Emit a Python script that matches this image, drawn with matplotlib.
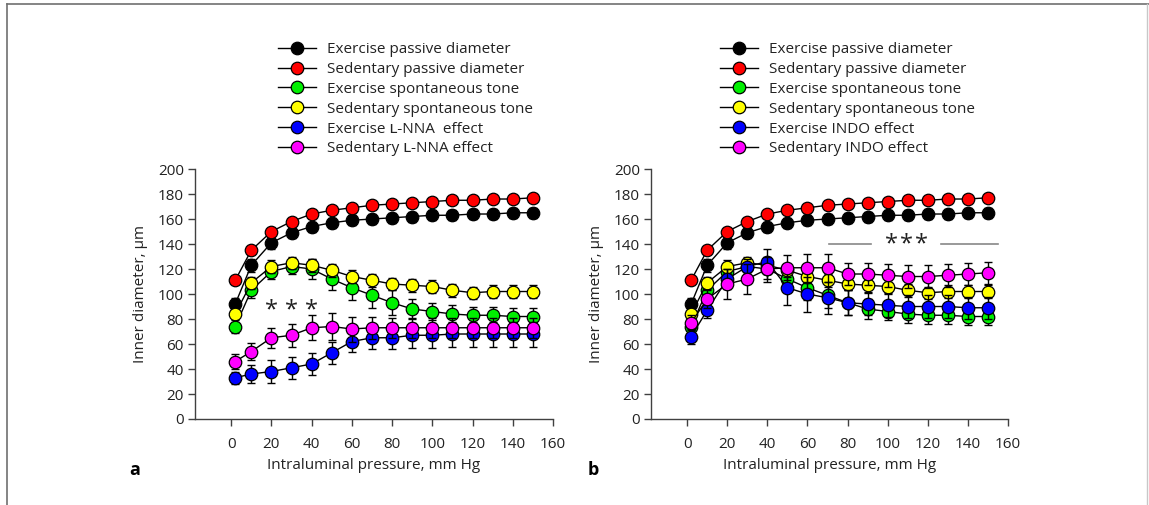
import matplotlib
matplotlib.use("Agg")
import matplotlib.pyplot as plt
from matplotlib.lines import Line2D

plt.rcParams['font.family'] = ['Open Sans', 'DejaVu Sans']

# pressure steps (mm Hg)
pressure = [2, 10, 20, 30, 40, 50, 60, 70, 80, 90, 100, 110, 120, 130, 140, 150]

# shared series (both panels)
ex_passive = [92, 123, 141, 149, 154, 157, 159, 160, 161, 162, 163, 163, 164, 164, 165, 165]
ex_passive_err = [5, 5, 5, 4, 4, 4, 4, 4, 4, 4, 4, 4, 4, 4, 4, 4]
sed_passive = [111, 135, 150, 158, 164, 167, 169, 171, 172, 173, 174, 175, 175, 176, 176, 177]
sed_passive_err = [3, 3, 3, 3, 3, 3, 3, 3, 3, 3, 3, 3, 3, 3, 3, 3]
ex_tone = [74, 103, 118, 122, 120, 112, 105, 99, 93, 88, 86, 84, 83, 83, 82, 82]
ex_tone_err = [5, 6, 6, 6, 8, 9, 10, 10, 10, 8, 7, 7, 7, 7, 7, 7]
sed_tone = [84, 109, 122, 125, 123, 119, 114, 111, 108, 107, 106, 103, 101, 102, 102, 102]
sed_tone_err = [4, 5, 5, 5, 5, 5, 5, 5, 5, 5, 5, 5, 5, 5, 5, 5]

# panel a: L-NNA
ex_lnna = [33, 36, 38, 41, 44, 53, 62, 65, 65, 67, 67, 68, 68, 68, 68, 68]
ex_lnna_err = [5, 7, 9, 9, 9, 9, 8, 9, 9, 10, 10, 10, 10, 10, 10, 10]
sed_lnna = [46, 54, 65, 67, 73, 74, 72, 73, 73, 73, 73, 73, 73, 73, 73, 73]
sed_lnna_err = [6, 7, 8, 9, 10, 11, 10, 9, 8, 8, 8, 8, 8, 8, 8, 8]

# panel b: INDO
ex_indo = [66, 87, 112, 122, 126, 105, 100, 97, 93, 92, 91, 90, 90, 90, 89, 89]
ex_indo_err = [6, 6, 8, 6, 10, 14, 14, 13, 10, 9, 9, 9, 9, 9, 9, 9]
sed_indo = [77, 96, 108, 112, 120, 121, 121, 121, 116, 116, 115, 114, 114, 115, 116, 117]
sed_indo_err = [6, 7, 12, 12, 10, 10, 11, 11, 9, 9, 9, 9, 9, 9, 9, 9]

colors = ['black', '#ff0000', '#00f000', '#ffff00', '#0000ff', '#ff00ff']

labels_a = ['Exercise passive diameter', 'Sedentary passive diameter',
            'Exercise spontaneous tone', 'Sedentary spontaneous tone',
            'Exercise \u029f-NNA  effect', 'Sedentary \u029f-NNA effect']
labels_b = ['Exercise passive diameter', 'Sedentary passive diameter',
            'Exercise spontaneous tone', 'Sedentary spontaneous tone',
            'Exercise INDO effect', 'Sedentary INDO effect']

star_x_a = [20, 30, 40]
star_y_a = 87
star_x_b = [102, 109.5, 117]
star_y_b = 140
bar_b = [(70.5, 91.5), (126.5, 155)]

gray = '#404040'

fig = plt.figure(figsize=(11.49, 5.05), dpi=100)
ax_a = fig.add_axes([0.1697, 0.1703, 0.3116, 0.495])
ax_b = fig.add_axes([0.5666, 0.1703, 0.3107, 0.495])


def draw_panel(ax, series, errs, labels):
    handles = []
    for i, (y, e) in enumerate(zip(series, errs)):
        ax.errorbar(pressure, y, yerr=e, fmt='none', ecolor='black',
                    elinewidth=1, capsize=3, capthick=1, zorder=2 + i * 2)
        h, = ax.plot(pressure, y, '-o', color='black', lw=1, ms=9,
                     mfc=colors[i], mec='black', mew=0.9, label=labels[i],
                     zorder=3 + i * 2)
        handles.append(h)
    ax.set_xlim(-18, 160)
    ax.set_ylim(0, 200)
    ax.set_xticks(range(0, 161, 20))
    ax.set_yticks(range(0, 201, 20))
    for s in ['top', 'right']:
        ax.spines[s].set_visible(False)
    for s in ['left', 'bottom']:
        ax.spines[s].set_color(gray)
        ax.spines[s].set_linewidth(1)
    ax.tick_params(direction='out', length=5, width=1, color=gray,
                   labelsize=11, labelcolor='#222222')
    ax.tick_params(axis='x', pad=8)
    ax.tick_params(axis='y', pad=3)
    ax.set_xlabel('Intraluminal pressure, mm Hg', fontsize=11, color='#222222', labelpad=4)
    ax.set_ylabel('Inner diameter, \u00b5m', fontsize=11, color='#222222', labelpad=7)
    return handles


series_a = [ex_passive, sed_passive, ex_tone, sed_tone, ex_lnna, sed_lnna]
errs_a = [ex_passive_err, sed_passive_err, ex_tone_err, sed_tone_err, ex_lnna_err, sed_lnna_err]
series_b = [ex_passive, sed_passive, ex_tone, sed_tone, ex_indo, sed_indo]
errs_b = [ex_passive_err, sed_passive_err, ex_tone_err, sed_tone_err, ex_indo_err, sed_indo_err]

h_a = draw_panel(ax_a, series_a, errs_a, labels_a)
h_b = draw_panel(ax_b, series_b, errs_b, labels_b)

leg_kw = dict(frameon=False, fontsize=11, handlelength=2.5, handletextpad=0.7,
              labelspacing=0.32, borderpad=0, borderaxespad=0, loc='upper left',
              labelcolor='#222222')
fig.legend(handles=h_a, bbox_to_anchor=(278 / 1149, 1 - 42 / 505), **leg_kw)
fig.legend(handles=h_b, bbox_to_anchor=(720 / 1149, 1 - 42 / 505), **leg_kw)

# significance marks
for x in star_x_a:
    ax_a.text(x, star_y_a, '*', ha='center', va='center', fontsize=17, color='#222222')
for x in star_x_b:
    ax_b.text(x, star_y_b, '*', ha='center', va='center', fontsize=17, color='#222222')
for x0, x1 in bar_b:
    ax_b.plot([x0, x1], [140, 140], color='#888888', lw=1.2, zorder=1)

# panel letters
fig.text(135 / 1149, 1 - 470 / 505, 'a', fontsize=13, fontweight='bold', ha='center', va='center')
fig.text(593 / 1149, 1 - 470 / 505, 'b', fontsize=13, fontweight='bold', ha='center', va='center')

# outer frame
fig.add_artist(Line2D([7 / 1149, 1], [1 - 4 / 505] * 2, transform=fig.transFigure, color='#707070', lw=1.2))
fig.add_artist(Line2D([7 / 1149] * 2, [0, 1 - 4 / 505], transform=fig.transFigure, color='#707070', lw=1.2))
fig.add_artist(Line2D([1147 / 1149] * 2, [0, 1 - 4 / 505], transform=fig.transFigure, color='#c8c8c8', lw=1))

fig.savefig('out.png', dpi=100)
